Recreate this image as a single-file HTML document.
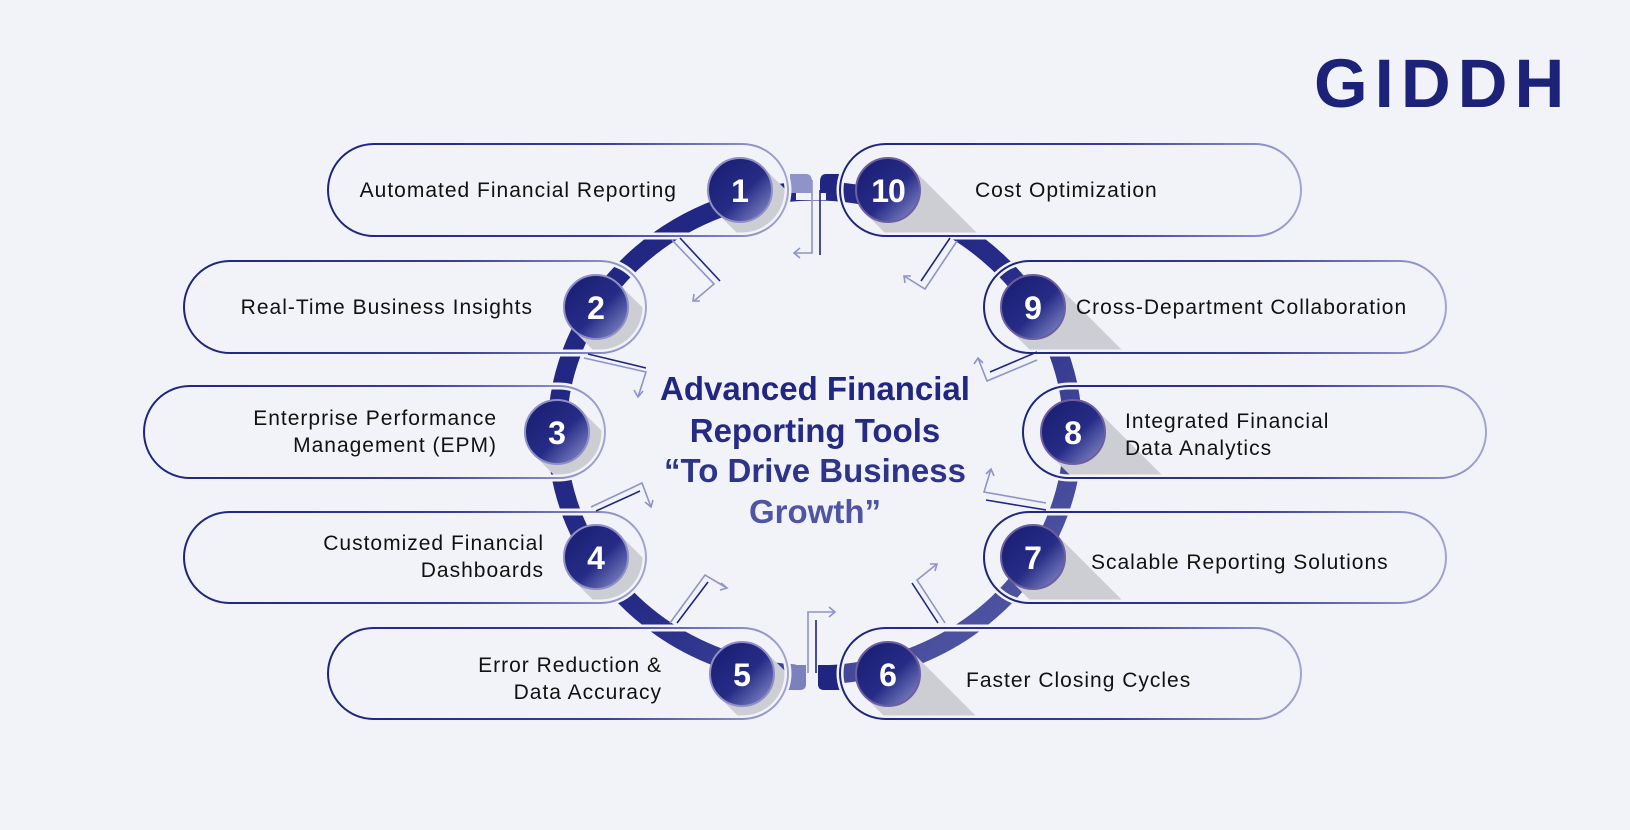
<!DOCTYPE html>
<html><head><meta charset="utf-8"><style>
html,body{margin:0;padding:0;background:#f2f3f8;}
svg{display:block;}
text{font-family:"Liberation Sans",sans-serif;}
</style></head><body>
<svg width="1630" height="830" viewBox="0 0 1630 830" xmlns="http://www.w3.org/2000/svg">
<defs>
<linearGradient id="pl" x1="0" y1="0" x2="1" y2="0"><stop offset="0" stop-color="#1e237e"/><stop offset="0.6" stop-color="#3a3f94"/><stop offset="1" stop-color="#a2a4d4"/></linearGradient>
<linearGradient id="cg" x1="0.2" y1="0.2" x2="0.9" y2="0.9"><stop offset="0" stop-color="#1d2278"/><stop offset="0.5" stop-color="#262c86"/><stop offset="1" stop-color="#7a7fc0"/></linearGradient>
<linearGradient id="rg" x1="0" y1="0" x2="1" y2="1"><stop offset="0" stop-color="#1f2580"/><stop offset="0.5" stop-color="#252b86"/><stop offset="1" stop-color="#5c61aa"/></linearGradient>
<clipPath id="c1"><rect x="328" y="144" width="460" height="92" rx="46"/></clipPath>
<clipPath id="c2"><rect x="184" y="261" width="462" height="92" rx="46"/></clipPath>
<clipPath id="c3"><rect x="144" y="386" width="461" height="92" rx="46"/></clipPath>
<clipPath id="c4"><rect x="184" y="512" width="462" height="91" rx="45.5"/></clipPath>
<clipPath id="c5"><rect x="328" y="628" width="460" height="91" rx="45.5"/></clipPath>
<clipPath id="c6"><rect x="840" y="628" width="461" height="91" rx="45.5"/></clipPath>
<clipPath id="c7"><rect x="984" y="512" width="462" height="91" rx="45.5"/></clipPath>
<clipPath id="c8"><rect x="1023" y="386" width="463" height="92" rx="46"/></clipPath>
<clipPath id="c9"><rect x="984" y="261" width="462" height="92" rx="46"/></clipPath>
<clipPath id="c10"><rect x="840" y="144" width="461" height="92" rx="46"/></clipPath>
</defs>

<!-- logo -->
<text x="1314" y="107" font-size="69" font-weight="700" fill="#1b2278" letter-spacing="7">GIDDH</text>

<!-- ring -->
<ellipse cx="815" cy="433" rx="258" ry="242" fill="none" stroke="url(#rg)" stroke-width="19"/>
<rect x="796" y="160" width="30" height="40" fill="#f2f3f8"/>
<path d="M790 174 L806 174 Q812 174 812 182 L812 193 L790 193 Z" fill="#8f93c8"/>
<path d="M840 174 L826 174 Q820 174 820 182 L820 193 L840 193 Z" fill="#1f2580"/>
<rect x="796" y="660" width="30" height="40" fill="#f2f3f8"/>
<path d="M788 665 L806 665 L806 684 Q806 690 800 690 L788 690 Z" fill="#7c80bd"/>
<path d="M840 665 L818 665 L818 684 Q818 690 824 690 L840 690 Z" fill="#1f2580"/>

<!-- shadows -->
<g fill="#cdced4">
<polygon clip-path="url(#c1)" points="763,167 717,213 817,313 863,267"/>
<polygon clip-path="url(#c2)" points="619,284 573,330 673,430 719,384"/>
<polygon clip-path="url(#c3)" points="580,409 534,455 634,555 680,509"/>
<polygon clip-path="url(#c4)" points="619,534 573,580 673,680 719,634"/>
<polygon clip-path="url(#c5)" points="765,651 719,697 819,797 865,751"/>
<polygon clip-path="url(#c6)" points="911,651 865,697 965,797 1011,751"/>
<polygon clip-path="url(#c7)" points="1056,534 1010,580 1110,680 1156,634"/>
<polygon clip-path="url(#c8)" points="1096,409 1050,455 1150,555 1196,509"/>
<polygon clip-path="url(#c9)" points="1056,284 1010,330 1110,430 1156,384"/>
<polygon clip-path="url(#c10)" points="911,167 865,213 965,313 1011,267"/>
</g>

<g fill="none" stroke="#f2f3f8" stroke-width="7">
<rect x="328" y="144" width="460" height="92" rx="46"/>
<rect x="184" y="261" width="462" height="92" rx="46"/>
<rect x="144" y="386" width="461" height="92" rx="46"/>
<rect x="184" y="512" width="462" height="91" rx="45.5"/>
<rect x="328" y="628" width="460" height="91" rx="45.5"/>
<rect x="840" y="628" width="461" height="91" rx="45.5"/>
<rect x="984" y="512" width="462" height="91" rx="45.5"/>
<rect x="1023" y="386" width="463" height="92" rx="46"/>
<rect x="984" y="261" width="462" height="92" rx="46"/>
<rect x="840" y="144" width="461" height="92" rx="46"/>
</g>
<g fill="none" stroke="url(#pl)" stroke-width="2">
<rect x="328" y="144" width="460" height="92" rx="46"/>
<rect x="184" y="261" width="462" height="92" rx="46"/>
<rect x="144" y="386" width="461" height="92" rx="46"/>
<rect x="184" y="512" width="462" height="91" rx="45.5"/>
<rect x="328" y="628" width="460" height="91" rx="45.5"/>
<rect x="840" y="628" width="461" height="91" rx="45.5"/>
<rect x="984" y="512" width="462" height="91" rx="45.5"/>
<rect x="1023" y="386" width="463" height="92" rx="46"/>
<rect x="984" y="261" width="462" height="92" rx="46"/>
<rect x="840" y="144" width="461" height="92" rx="46"/>
</g>

<g fill="url(#cg)" stroke="#8d8fc6" stroke-width="2">
<circle cx="740" cy="190" r="32"/>
<circle cx="596" cy="307" r="32"/>
<circle cx="557" cy="432" r="32"/>
<circle cx="596" cy="557" r="32"/>
<circle cx="742" cy="674" r="32"/>
<circle cx="888" cy="674" r="32" stroke="#6e5ea0"/>
<circle cx="1033" cy="557" r="32" stroke="#6e5ea0"/>
<circle cx="1073" cy="432" r="32" stroke="#6e5ea0"/>
<circle cx="1033" cy="307" r="32" stroke="#6e5ea0"/>
<circle cx="888" cy="190" r="32" stroke="#6e5ea0"/>
</g>
<g fill="#fff" font-size="32" font-weight="700" text-anchor="middle">
<text x="740" y="202">1</text>
<text x="596" y="319">2</text>
<text x="557" y="444">3</text>
<text x="596" y="569">4</text>
<text x="742" y="686">5</text>
<text x="888" y="686">6</text>
<text x="1033" y="569">7</text>
<text x="1073" y="444">8</text>
<text x="1033" y="319">9</text>
<text x="888" y="202" letter-spacing="-1">10</text>
</g>

<g fill="#111" font-size="21" letter-spacing="1">
<text x="677" y="197" text-anchor="end">Automated Financial Reporting</text>
<text x="533" y="314" text-anchor="end">Real-Time Business Insights</text>
<text x="497" y="425" text-anchor="end">Enterprise Performance</text>
<text x="497" y="452" text-anchor="end">Management (EPM)</text>
<text x="544" y="550" text-anchor="end">Customized Financial</text>
<text x="544" y="577" text-anchor="end">Dashboards</text>
<text x="662" y="672" text-anchor="end">Error Reduction &amp;</text>
<text x="662" y="699" text-anchor="end">Data Accuracy</text>
<text x="975" y="197">Cost Optimization</text>
<text x="1076" y="314">Cross-Department Collaboration</text>
<text x="1125" y="428">Integrated Financial</text>
<text x="1125" y="455">Data Analytics</text>
<text x="1091" y="569">Scalable Reporting Solutions</text>
<text x="966" y="687">Faster Closing Cycles</text>
</g>

<g font-size="33" font-weight="700" text-anchor="middle">
<text x="815" y="400" fill="#212780">Advanced Financial</text>
<text x="815" y="442" fill="#252b84">Reporting Tools</text>
<text x="815" y="482" fill="#2e3489">“To Drive Business</text>
<text x="815" y="523" fill="#4f55a0">Growth”</text>
</g>

<g fill="none" stroke-width="1.6" stroke-linejoin="miter">
<g stroke="#8f93c8">
<polyline points="812,180 812,253 795,253"/>
<polyline points="800,248 794,253 800,258"/>
<polyline points="672,240 714,284 694,301"/>
<polyline points="694,294 693,301 700,301"/>
<polyline points="584,358 646,372 638,397"/>
<polyline points="634,390 638,397 643,391"/>
<polyline points="591,507 642,483 651,507"/>
<polyline points="645,502 651,507 653,500"/>
<polyline points="670,623 705,575 727,588"/>
<polyline points="721,583 727,588 720,590"/>
<polyline points="808,673 808,612 835,612"/>
<polyline points="829,607 835,612 829,617"/>
<polyline points="945,623 917,580 937,564"/>
<polyline points="930,564 937,564 935,571"/>
<polyline points="1046,503 984,492 991,469"/>
<polyline points="986,474 991,469 994,476"/>
<polyline points="1037,360 987,381 978,358"/>
<polyline points="974,364 978,358 983,363"/>
<polyline points="957,241 925,289 904,276"/>
<polyline points="905,283 904,276 911,276"/>
</g>
<g stroke="#1f2580">
<polyline points="820,190 820,255"/>
<polyline points="680,238 720,281"/>
<polyline points="588,354 646,368"/>
<polyline points="596,511 640,491"/>
<polyline points="677,623 708,582"/>
<polyline points="816,673 816,620"/>
<polyline points="938,623 912,583"/>
<polyline points="1046,510 986,500"/>
<polyline points="1037,352 990,372"/>
<polyline points="950,238 921,281"/>
</g>
</g>
</svg>
</body></html>
